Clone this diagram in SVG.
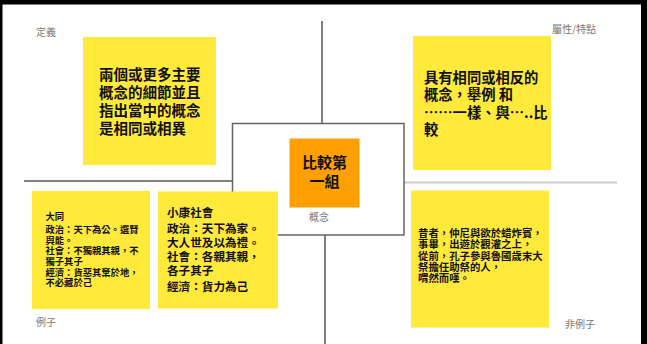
<svg xmlns="http://www.w3.org/2000/svg" width="647" height="344" viewBox="0 0 647 344">
<style>
.cjk{font-family:"Noto Sans CJK TC","Noto Sans CJK SC",sans-serif;}
.note{fill:#FFE93B;}
.b{font-weight:bold;fill:#111;}
.lbl{font-size:10px;fill:#777;}
</style>
<rect x="0" y="0" width="647" height="344" fill="#fff"/>
<g id="frame">
<rect x="0" y="0" width="647" height="4.5" fill="#000"/>
<rect x="0" y="0" width="2.5" height="344" fill="#000"/>
<rect x="641" y="0" width="6" height="344" fill="#000"/>
</g>
<g id="connectors" fill="none">
<line x1="322" y1="21" x2="322" y2="123" stroke="#555" stroke-width="1.5"/>
<line x1="325" y1="235" x2="325" y2="344" stroke="#555" stroke-width="1.5"/>
<line x1="24" y1="181" x2="233" y2="181" stroke="#555" stroke-width="1.5"/>
<line x1="404" y1="182.5" x2="617" y2="182.5" stroke="#ccc" stroke-width="2"/>
</g>
<g id="center" class="cjk">
<rect x="232.5" y="123.5" width="171.5" height="111.5" fill="#fff" stroke="#666" stroke-width="1.5"/>
<rect x="289.5" y="138.5" width="70" height="69" fill="#FF9F00"/>
<text class="b" font-size="15" text-anchor="middle"><tspan x="324.5" y="168">比較第</tspan><tspan x="324.5" y="187">一組</tspan></text>
<text class="lbl" x="319" y="220.5" text-anchor="middle">概念</text>
</g>
<g id="labels" class="cjk">
<text class="lbl" x="36" y="36">定義</text>
<text class="lbl" x="552" y="33">屬性/特點</text>
<text class="lbl" x="36" y="326">例子</text>
<text class="lbl" x="565" y="328">非例子</text>
</g>
<g id="definition" class="cjk">
<rect class="note" x="83" y="37" width="133" height="128"/>
<text class="b" font-size="14.5"><tspan x="99" y="80">兩個或更多主要</tspan><tspan x="99" y="98">概念的細節並且</tspan><tspan x="99" y="116">指出當中的概念</tspan><tspan x="99" y="133.5">是相同或相異</tspan></text>
</g>
<g id="characteristics" class="cjk">
<rect class="note" x="413" y="36" width="138" height="134"/>
<text class="b" font-size="14.3"><tspan x="424" y="82.5">具有相同或相反的</tspan><tspan x="424" y="99.5">概念，舉例 和</tspan><tspan x="424" y="117.5">……一樣、與…..比</tspan><tspan x="424" y="135">較</tspan></text>
</g>
<g id="example1" class="cjk">
<rect class="note" x="32" y="191" width="118" height="118"/>
<text class="b" font-size="9.3"><tspan x="45.5" y="220">大同</tspan><tspan x="45.5" y="232.5">政治：天下為公。選賢</tspan><tspan x="45.5" y="243.5">與能。</tspan><tspan x="45.5" y="254">社會：不獨親其親，不</tspan><tspan x="45.5" y="264.5">獨子其子</tspan><tspan x="45.5" y="275.5">經濟：貨惡其棄於地，</tspan><tspan x="45.5" y="286">不必藏於己</tspan></text>
</g>
<g id="example2" class="cjk">
<rect class="note" x="158" y="191.5" width="120" height="117"/>
<text class="b" font-size="11.6"><tspan x="167" y="217">小康社會</tspan><tspan x="167" y="232.5">政治：天下為家。</tspan><tspan x="167" y="246.5">大人世及以為禮。</tspan><tspan x="167" y="261">社會：各親其親，</tspan><tspan x="167" y="275">各子其子</tspan><tspan x="167" y="290.5">經濟：貨力為己</tspan></text>
</g>
<g id="nonexample" class="cjk">
<rect class="note" x="411" y="190.5" width="138" height="137"/>
<text class="b" font-size="10.4"><tspan x="418" y="237">昔者，仲尼與欲於蜡炸賓，</tspan><tspan x="418" y="248">事畢，出遊於觀灌之上，</tspan><tspan x="418" y="259.5">從前，孔子參與魯國歲末大</tspan><tspan x="418" y="270.5">祭擔任助祭的人，</tspan><tspan x="418" y="282">喟然而嘆。</tspan></text>
</g>
</svg>
